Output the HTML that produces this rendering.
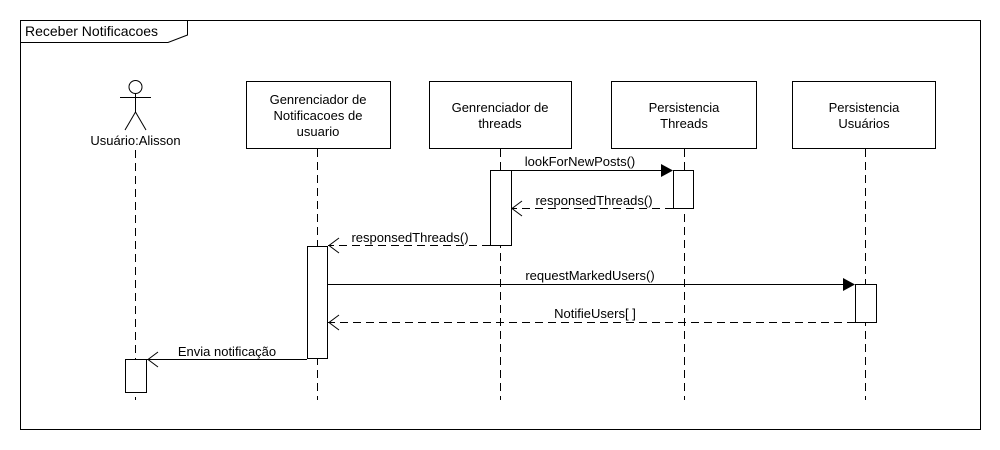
<!DOCTYPE html>
<html><head><meta charset="utf-8"><style>
html,body{margin:0;padding:0;background:#fff}
svg{display:block}
text{font-family:"Liberation Sans",sans-serif;font-size:13px;fill:#000}
</style></head><body>
<svg width="1000" height="450" viewBox="0 0 1000 450">
<rect x="20.5" y="20.5" width="960" height="409" fill="none" stroke="#000"/>
<polyline points="20.5,42.5 168,42.5 187.5,35 187.5,20.5" fill="none" stroke="#000"/>
<text x="25" y="36" style="font-size:14px">Receber Notificacoes</text>

<g stroke="#000" fill="none">
<circle cx="135.5" cy="87" r="6.5"/>
<line x1="135.5" y1="93.5" x2="135.5" y2="112"/>
<line x1="120" y1="97.5" x2="151" y2="97.5"/>
<line x1="135.5" y1="112" x2="125" y2="130"/>
<line x1="135.5" y1="112" x2="146" y2="130"/>
</g>
<text x="135.5" y="145" text-anchor="middle">Usuário:Alisson</text>

<g fill="#fff" stroke="#000">
<rect x="246.5" y="81.5" width="144" height="67"/>
<rect x="429.5" y="81.5" width="142" height="67"/>
<rect x="611.5" y="81.5" width="145" height="67"/>
<rect x="792.5" y="81.5" width="143" height="67"/>
</g>
<g text-anchor="middle">
<text x="318" y="104">Genrenciador de</text>
<text x="318" y="120">Notificacoes de</text>
<text x="318" y="136">usuario</text>
<text x="500" y="112">Genrenciador de</text>
<text x="500" y="128">threads</text>
<text x="684" y="112">Persistencia</text>
<text x="684" y="128">Threads</text>
<text x="864" y="112">Persistencia</text>
<text x="864" y="128">Usuários</text>
</g>

<g stroke="#000" stroke-dasharray="8,5">
<line x1="135.5" y1="150" x2="135.5" y2="400"/>
<line x1="317.5" y1="149" x2="317.5" y2="400"/>
<line x1="500.5" y1="149" x2="500.5" y2="400"/>
<line x1="684.5" y1="149" x2="684.5" y2="400"/>
<line x1="865.5" y1="149" x2="865.5" y2="400"/>
</g>

<g fill="#fff" stroke="#000">
<rect x="490.5" y="170.5" width="21" height="75"/>
<rect x="673.5" y="170.5" width="20" height="38"/>
<rect x="307.5" y="246.5" width="20" height="112"/>
<rect x="855.5" y="284.5" width="21" height="38"/>
<rect x="125.5" y="359.5" width="21" height="33"/>
</g>

<g stroke="#000" fill="none">
<line x1="511" y1="170.5" x2="662" y2="170.5"/>
<line x1="673" y1="208.5" x2="511" y2="208.5" stroke-dasharray="8,5"/>
<polyline points="522,201 512,208.5 522,216"/>
<line x1="490" y1="245.5" x2="328" y2="245.5" stroke-dasharray="8,5"/>
<polyline points="339,238 329,245.5 339,253"/>
<line x1="327" y1="284.5" x2="844" y2="284.5"/>
<line x1="855" y1="322.5" x2="328" y2="322.5" stroke-dasharray="8,5"/>
<polyline points="339,315 329,322.5 339,330"/>
<line x1="307" y1="359.5" x2="147" y2="359.5"/>
<polyline points="158,352 148,359.5 158,367"/>
</g>
<polygon points="661,164 673,170.5 661,177" fill="#000"/>
<polygon points="843,278 855,284.5 843,291" fill="#000"/>

<g text-anchor="middle">
<text x="580" y="166">lookForNewPosts()</text>
<text x="594" y="205">responsedThreads()</text>
<text x="410" y="242">responsedThreads()</text>
<text x="590" y="280">requestMarkedUsers()</text>
<text x="595" y="318">NotifieUsers[ ]</text>
<text x="227" y="356">Envia notificação</text>
</g>
</svg>
</body></html>
